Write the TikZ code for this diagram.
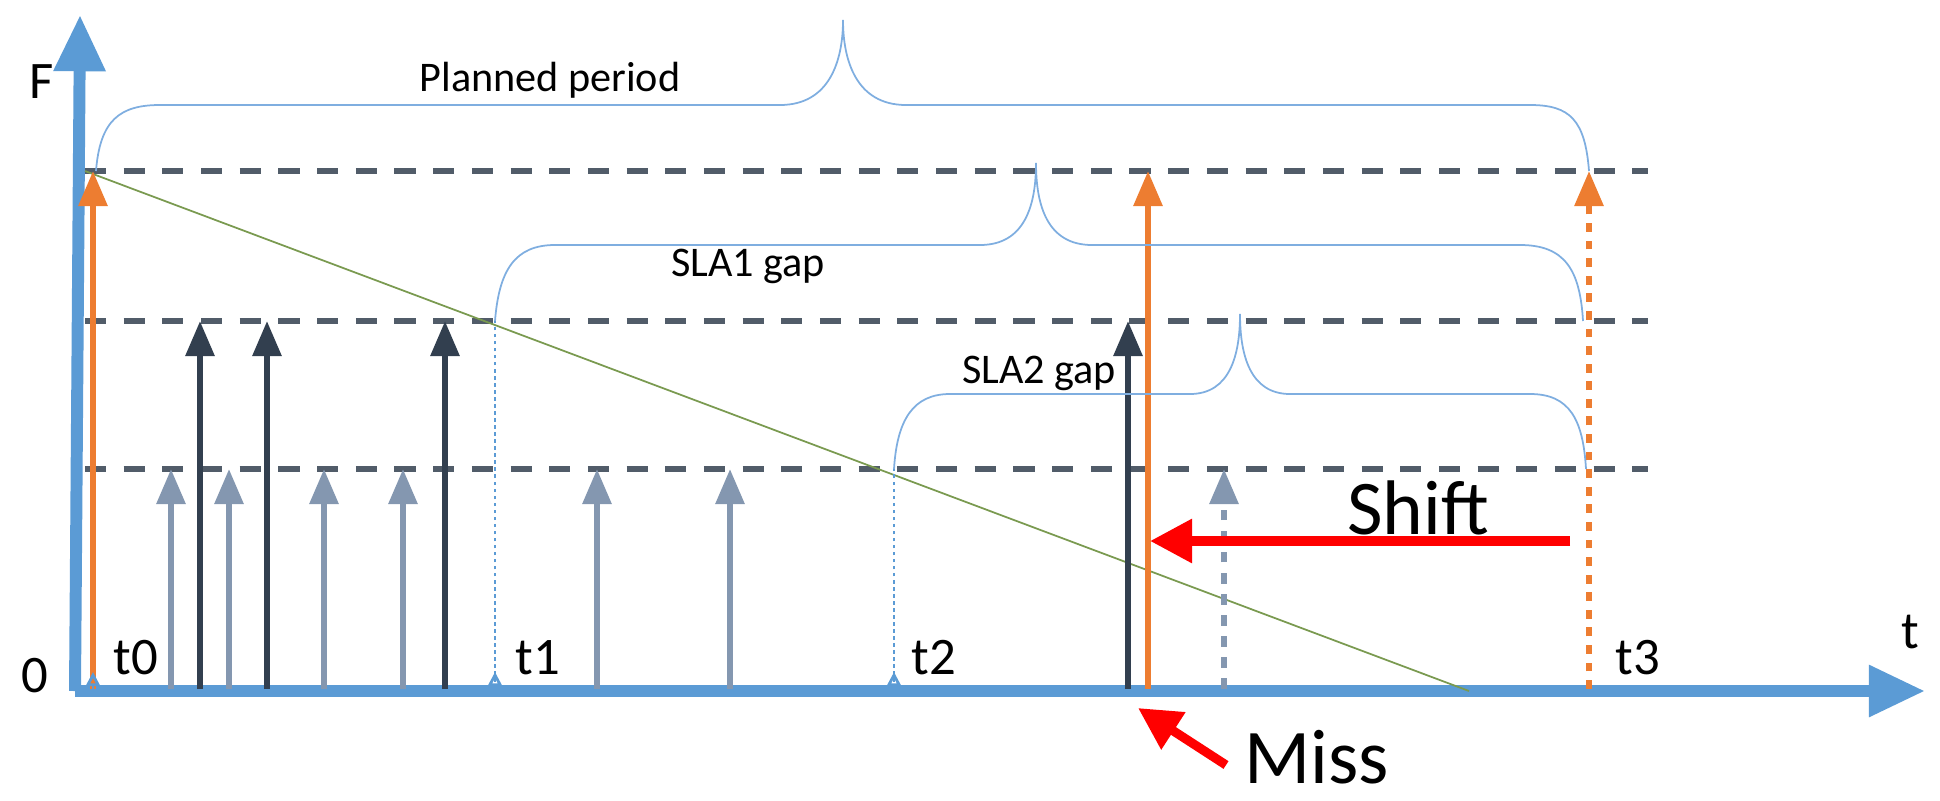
\documentclass[tikz,border=0pt]{standalone}
\usepackage{fontspec}
\setmainfont{Carlito}
\usetikzlibrary{arrows.meta}
\definecolor{axisblue}{HTML}{5B9BD5}
\definecolor{darkslate}{HTML}{323F4F}
\definecolor{lightslate}{HTML}{8497B0}
\definecolor{planorange}{HTML}{ED7D31}
\definecolor{bracecol}{HTML}{7FAEE0}
\definecolor{trendgreen}{HTML}{7A9A50}
\tikzset{
  axis/.style={line width=3.4pt, axisblue, -{Triangle[length=16pt,width=14pt]}},
  level/.style={line width=1.7pt, darkslate!85, dash pattern=on 6pt off 5pt},
  hi/.style={line width=1.7pt, darkslate, -{Triangle[length=10pt,width=8pt]}},
  lo/.style={line width=1.7pt, lightslate, -{Triangle[length=10pt,width=8pt]}},
  plan/.style={line width=1.7pt, planorange, -{Triangle[length=10pt,width=8pt]}},
  brace/.style={bracecol, line width=0.5pt},
  gapline/.style={axisblue, line width=0.4pt, dash pattern=on 1pt off 1pt},
  gaptick/.style={axisblue, line width=0.8pt, -{Triangle[open,length=4pt,width=4pt]}},
  redarrow/.style={red, line width=2.6pt, -{Triangle[length=12pt,width=12pt]}},
}
\begin{document}
\begin{tikzpicture}[x={(0.01cm,0)}, y={(0,-0.01cm)}]
  \useasboundingbox (0,0) rectangle (1940,800);

  % axes
  \coordinate (O) at (80,691);
  \coordinate (ytop) at (80,15);
  \coordinate (xend) at (1925,691);
  \draw[axis] (75,691) -- (ytop);
  \draw[axis] (75,691) -- (xend);
  \node (F) at (42,82) {\fontsize{15}{15}\selectfont F};
  \node (zero) at (35,676) {\fontsize{15}{15}\selectfont 0};
  \node (tlab) at (1910,632) {\fontsize{15}{15}\selectfont t};

  % levels
  \foreach \y/\n in {171/A, 321/B, 469/C} {
    \coordinate (L\n l) at (85,\y);
    \coordinate (L\n r) at (1648,\y);
    \draw[level] (L\n l) -- (L\n r);
  }

  % trend line
  \coordinate (g0) at (85,171);
  \coordinate (g1) at (1469,691);
  \draw[trendgreen, line width=0.5pt] (g0) -- (g1);

  % light events
  \foreach \x in {171,229,324,403,597,730}
    \draw[lo] (\x,689) -- (\x,469);
  \draw[lightslate, line width=1.7pt, dash pattern=on 3pt off 3pt] (1224,689) -- (1224,480);
  \draw[lightslate, -{Triangle[length=10pt,width=8pt]}, line width=1.7pt] (1224,485) -- (1224,469);

  % heavy events
  \foreach \x in {200,267,445,1128}
    \draw[hi] (\x,689) -- (\x,321);

  % planned events
  \draw[plan] (93,689) -- (93,171);
  \draw[plan] (1148,689) -- (1148,171);
  \draw[planorange, line width=1.7pt, dash pattern=on 2.5pt off 2.5pt] (1589,689) -- (1589,185);
  \draw[plan] (1589,190) -- (1589,171);

  % gap marks
  \draw[gapline] (495,689) -- (495,321);
  \draw[gapline] (894,689) -- (894,469);
  \foreach \x in {93,495,894}
    \draw[gaptick] (\x,690) -- (\x,672);
  \node (t0) at (136,658) {\fontsize{15}{15}\selectfont t0};
  \node (t1) at (538,658) {\fontsize{15}{15}\selectfont t1};
  \node (t2) at (934,658) {\fontsize{15}{15}\selectfont t2};
  \node (t3) at (1638,658) {\fontsize{15}{15}\selectfont t3};

  % braces
  \draw[brace] (96,171) .. controls (100,120) and (120,105) .. (160,105)
    -- (780,105) .. controls (830,105) and (843,60) .. (843,20)
    .. controls (843,60) and (856,105) .. (906,105)
    -- (1530,105) .. controls (1570,105) and (1585,120) .. (1589,171);
  \node (planned) at (550,80) {\fontsize{12}{12}\selectfont Planned period};

  \draw[brace] (495,321) .. controls (499,270) and (515,245) .. (555,245)
    -- (980,245) .. controls (1025,245) and (1036,205) .. (1036,163)
    .. controls (1036,205) and (1047,245) .. (1092,245)
    -- (1520,245) .. controls (1565,245) and (1580,270) .. (1583,321);
  \node (sla1) at (748,266) {\fontsize{12}{12}\selectfont SLA1 gap};

  \draw[brace] (894,469) .. controls (897,420) and (913,394) .. (950,394)
    -- (1190,394) .. controls (1230,394) and (1240,355) .. (1240,314)
    .. controls (1240,355) and (1250,394) .. (1290,394)
    -- (1530,394) .. controls (1570,394) and (1583,420) .. (1586,469);
  \node (sla2) at (1039,373) {\fontsize{12}{12}\selectfont SLA2 gap};

  % shift and miss
  \coordinate (s0) at (1570,541);
  \coordinate (s1) at (1150,541);
  \draw[redarrow] (s0) -- (s1);
  \node (shiftlab) at (1418,508) {\fontsize{22}{22}\selectfont Shift};
  \coordinate (m0) at (1226,765);
  \coordinate (m1) at (1138,708);
  \draw[redarrow] (m0) -- (m1);
  \node[anchor=west] (misslab) at (1232,757) {\fontsize{22}{22}\selectfont Miss};
\end{tikzpicture}
\end{document}
